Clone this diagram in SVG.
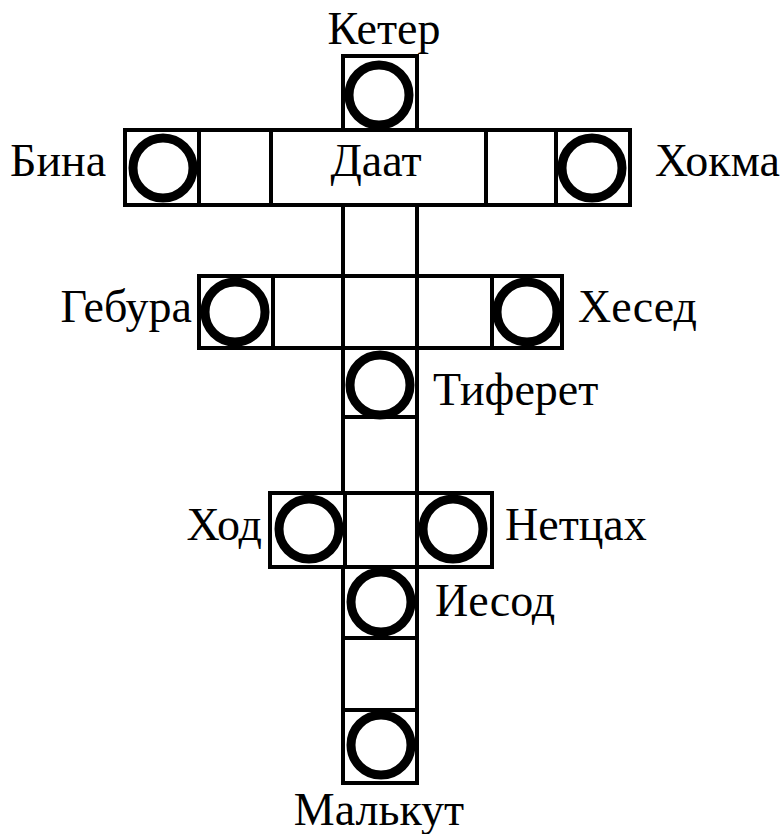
<svg xmlns="http://www.w3.org/2000/svg" width="784" height="834" viewBox="0 0 784 834">
<style>
.box{fill:none;stroke:#000;stroke-width:4}
.ln{stroke:#000;stroke-width:4;fill:none}
.sf{fill:none;stroke:#000;stroke-width:9}
.lb{font-family:"Liberation Serif","Times New Roman",serif;font-size:46px;fill:#000}
</style>
<rect width="784" height="834" fill="#fff"/>
<g id="connectors">
<line class="ln" x1="343" y1="205" x2="343" y2="276"/>
<line class="ln" x1="417" y1="205" x2="417" y2="276"/>
<line class="ln" x1="343" y1="417" x2="343" y2="493"/>
<line class="ln" x1="417" y1="417" x2="417" y2="493"/>
<rect class="box" x="343" y="638" width="74" height="72"/>
</g>
<g id="keter">
<rect class="box" x="343" y="56" width="74" height="74"/>
<circle class="sf" cx="379" cy="95" r="30"/>
<text class="lb" x="384" y="44" text-anchor="middle">Кетер</text>
</g>
<g id="bar-top">
<rect class="box" x="125" y="130" width="505" height="75"/>
<line class="ln" x1="199" y1="130" x2="199" y2="205"/>
<line class="ln" x1="271" y1="130" x2="271" y2="205"/>
<line class="ln" x1="486" y1="130" x2="486" y2="205"/>
<line class="ln" x1="556" y1="130" x2="556" y2="205"/>
</g>
<g id="bina">
<circle class="sf" cx="163" cy="168" r="30"/>
<text class="lb" x="10" y="176">Бина</text>
</g>
<g id="daat">
<text class="lb" x="376" y="176" text-anchor="middle">Даат</text>
</g>
<g id="hokhma">
<circle class="sf" cx="592" cy="168" r="30"/>
<text class="lb" x="655" y="176">Хокма</text>
</g>
<g id="bar-mid">
<rect class="box" x="199" y="276" width="363" height="72"/>
<line class="ln" x1="273" y1="276" x2="273" y2="348"/>
<line class="ln" x1="343" y1="276" x2="343" y2="348"/>
<line class="ln" x1="417" y1="276" x2="417" y2="348"/>
<line class="ln" x1="492" y1="276" x2="492" y2="348"/>
</g>
<g id="gebura">
<circle class="sf" cx="235" cy="312" r="30"/>
<text class="lb" x="192" y="322" text-anchor="end">Гебура</text>
</g>
<g id="hesed">
<circle class="sf" cx="527" cy="312" r="30"/>
<text class="lb" x="578" y="322">Хесед</text>
</g>
<g id="tiferet">
<rect class="box" x="343" y="348" width="74" height="69"/>
<circle class="sf" cx="380" cy="385" r="30"/>
<text class="lb" x="433" y="405">Тиферет</text>
</g>
<g id="bar-low">
<rect class="box" x="270" y="493" width="222" height="74"/>
<line class="ln" x1="345" y1="493" x2="345" y2="567"/>
<line class="ln" x1="417" y1="493" x2="417" y2="567"/>
</g>
<g id="hod">
<circle class="sf" cx="309" cy="529" r="30"/>
<text class="lb" x="262" y="540" text-anchor="end">Ход</text>
</g>
<g id="netsah">
<circle class="sf" cx="453" cy="529" r="30"/>
<text class="lb" x="505" y="540">Нетцах</text>
</g>
<g id="yesod">
<rect class="box" x="343" y="567" width="74" height="71"/>
<circle class="sf" cx="381" cy="602" r="30"/>
<text class="lb" x="435" y="616">Иесод</text>
</g>
<g id="malkut">
<rect class="box" x="343" y="710" width="74" height="73"/>
<circle class="sf" cx="381" cy="745" r="30"/>
<text class="lb" x="379" y="825" text-anchor="middle">Малькут</text>
</g>
</svg>
